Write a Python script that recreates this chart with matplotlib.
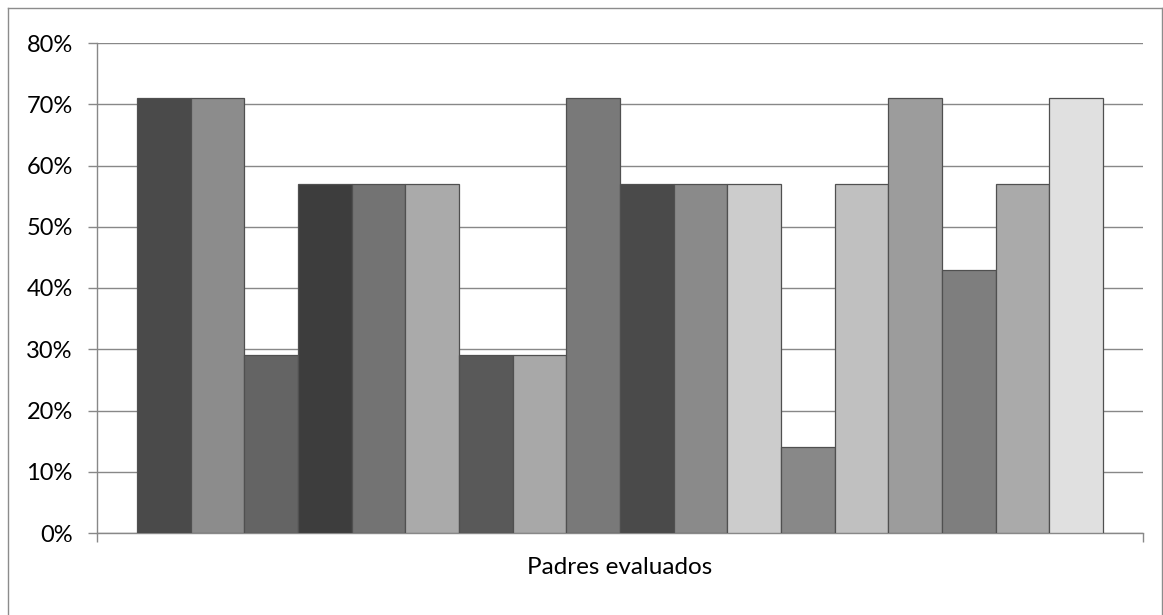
import matplotlib.pyplot as plt
from matplotlib.ticker import FuncFormatter
from matplotlib.lines import Line2D

# bar values (share of parents), one category with 18 series
values = [71, 71, 29, 57, 57, 57, 29, 29, 71, 57, 57, 57, 14, 57, 71, 43, 57, 71]
colors = ['#4a4a4a', '#8c8c8c', '#646464', '#3d3d3d', '#737373', '#aaaaaa',
          '#595959', '#a8a8a8', '#797979', '#4a4a4a', '#8a8a8a', '#cccccc',
          '#888888', '#c0c0c0', '#9c9c9c', '#7e7e7e', '#aaaaaa', '#e0e0e0']
yticks = [0, 10, 20, 30, 40, 50, 60, 70, 80]
xlabel = 'Padres evaluados'

plt.rcParams['font.family'] = ['Lato', 'DejaVu Sans']

W, H = 1163, 615
fig = plt.figure(figsize=(W / 100, H / 100), dpi=100)
ax = fig.add_axes([97 / W, (H - 533) / H, (1143 - 97) / W, (533 - 43) / H])

x = list(range(len(values)))
ax.bar(x, values, width=1.0, color=colors, edgecolor='#505050', linewidth=0.9, zorder=3)

gap = 0.745
ax.set_xlim(-0.5 - gap, len(values) - 0.5 + gap)
ax.set_ylim(0, 80)
ax.set_yticks(yticks)
ax.yaxis.set_major_formatter(FuncFormatter(lambda v, p: '%d%%' % v))
ax.yaxis.grid(True, color='#888888', linewidth=1.0, zorder=0)
ax.set_axisbelow(True)

ax.set_xticks([-0.5 - gap, len(values) - 0.5 + gap])
ax.set_xticklabels(['', ''])
ax.tick_params(axis='both', direction='out', length=6.5, width=1.0, color='#888888')
ax.tick_params(axis='y', pad=11, labelsize=17, labelcolor='black')

for s in ['top', 'right']:
    ax.spines[s].set_visible(False)
for s in ['left', 'bottom']:
    ax.spines[s].set_color('#888888')
    ax.spines[s].set_linewidth(1.0)

fig.text(620 / W, (H - 567) / H, xlabel, ha='center', va='center', fontsize=17.5)

# outer chart frame
fx0, fx1, fy0 = 7.5 / W, 1161.5 / W, 1 - 7.5 / H
fig.add_artist(Line2D([fx0, fx0], [0, fy0], color='#8c8c8c', linewidth=1.0))
fig.add_artist(Line2D([fx0, fx1], [fy0, fy0], color='#8c8c8c', linewidth=1.0))
fig.add_artist(Line2D([fx1, fx1], [0, fy0], color='#8c8c8c', linewidth=1.0))

fig.savefig('out.png', dpi=100)
